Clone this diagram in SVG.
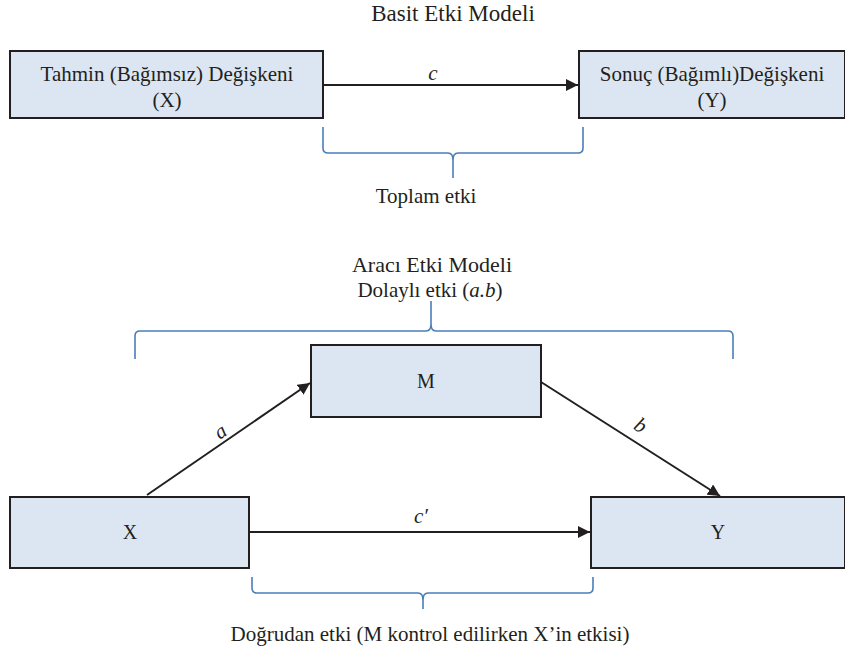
<svg xmlns="http://www.w3.org/2000/svg" width="845" height="654" viewBox="0 0 845 654">
<style>
.box{fill:#dce6f2;stroke:#231f20;stroke-width:2}
.t{font-family:"Liberation Serif","Times New Roman",serif;font-size:21px;fill:#231f20;text-anchor:middle}
.i{font-style:italic}
.edge{stroke:#231f20;stroke-width:2;fill:none}
.brace{stroke:#4a7ebb;stroke-width:1.6;fill:none}
</style>
<defs>
<marker id="ah" viewBox="0 0 10 10" refX="10" refY="5" markerWidth="6" markerHeight="6" markerUnits="strokeWidth" orient="auto">
<path d="M0,0 L10,5 L0,10 z" fill="#231f20"/>
</marker>
</defs>
<rect width="845" height="654" fill="#fff"/>
<text class="t" x="453" y="21" style="font-size:23px">Basit Etki Modeli</text>
<g id="nodeX1">
<rect class="box" x="10" y="51" width="313" height="67"/>
<text class="t" x="167" y="81">Tahmin (Bağımsız) Değişkeni</text>
<text class="t" x="167" y="107">(X)</text>
</g>
<g id="nodeY1">
<rect class="box" x="579" y="51" width="266" height="67"/>
<text class="t" x="712" y="81">Sonuç (Bağımlı)Değişkeni</text>
<text class="t" x="712" y="107">(Y)</text>
</g>
<g id="nodeM">
<rect class="box" x="311" y="345" width="230" height="72"/>
<text class="t" x="426" y="388" style="font-size:20px">M</text>
</g>
<g id="nodeX2">
<rect class="box" x="10" y="497" width="239" height="71"/>
<text class="t" x="130" y="539" style="font-size:20px">X</text>
</g>
<g id="nodeY2">
<rect class="box" x="591" y="497" width="254" height="71"/>
<text class="t" x="718" y="539" style="font-size:20px">Y</text>
</g>
<g id="connectors">
<line class="edge" x1="323" y1="85" x2="578" y2="85" marker-end="url(#ah)"/>
<line class="edge" x1="147" y1="495" x2="310" y2="383" marker-end="url(#ah)"/>
<line class="edge" x1="541" y1="382" x2="720" y2="496" marker-end="url(#ah)"/>
<line class="edge" x1="249" y1="532" x2="590" y2="532" marker-end="url(#ah)"/>
</g>
<g id="labels">
<text class="t i" x="433" y="80">c</text>
<text class="t i" transform="translate(224,437) rotate(-34)">a</text>
<text class="t i" transform="translate(637,431) rotate(33)">b</text>
<text class="t i" x="421" y="523">c′</text>
</g>
<g id="braces">
<path class="brace" d="M323,127 V148 Q323,153 328,153 H448 Q453,153 453,160 V178 M453,160 Q453,153 458,153 H578 Q583,153 583,148 V127"/>
<path class="brace" d="M135,359 V336 Q135,331 140,331 H426 Q431,331 431,324 V301 M431,324 Q431,331 436,331 H728 Q733,331 733,336 V359"/>
<path class="brace" d="M252,577 V588 Q252,593 257,593 H418 Q423,593 423,600 V609 M423,600 Q423,593 428,593 H588 Q593,593 593,588 V577"/>
</g>
<text class="t" x="426" y="203">Toplam etki</text>
<text class="t" x="432" y="272" style="font-size:22px">Aracı Etki Modeli</text>
<text class="t" x="430" y="297">Dolaylı etki (<tspan class="i">a.b</tspan>)</text>
<text class="t" x="430" y="641">Doğrudan etki (M kontrol edilirken X’in etkisi)</text>
</svg>
